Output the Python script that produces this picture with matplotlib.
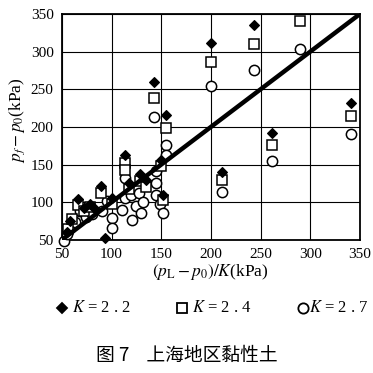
import matplotlib
matplotlib.use("Agg")
import matplotlib.pyplot as plt
from matplotlib.lines import Line2D

plt.rcParams['mathtext.fontset'] = 'stix'
plt.rcParams['font.family'] = ['Liberation Serif', 'DejaVu Serif']

# K = 2.2 (filled diamonds)
k22_x = [55, 58, 66, 72, 78, 82, 89, 93, 100, 114, 118, 129, 135, 143, 150, 152, 155, 200, 211, 243, 261, 341]
k22_y = [60, 75, 104, 92, 98, 92, 122, 52, 105, 163, 125, 137, 130, 260, 156, 110, 216, 311, 140, 336, 192, 232]
# K = 2.4 (open squares)
k24_x = [56, 60, 66, 72, 78, 89, 100, 114, 114, 118, 129, 135, 143, 150, 152, 155, 200, 211, 243, 261, 290, 341]
k24_y = [65, 78, 96, 88, 94, 112, 98, 152, 143, 118, 128, 120, 238, 148, 103, 199, 286, 130, 310, 176, 341, 214]
# K = 2.7 (open circles)
k27_x = [52, 55, 58, 63, 68, 74, 80, 90, 95, 100, 100, 110, 113, 114, 120, 121, 125, 128, 130, 132,
         143, 145, 145, 145, 149, 152, 155, 155, 200, 211, 243, 261, 290, 341]
k27_y = [48, 58, 66, 74, 88, 80, 84, 88, 101, 79, 66, 90, 106, 132, 110, 77, 95, 112, 86, 100,
         213, 141, 125, 110, 97, 86, 176, 163, 254, 114, 276, 155, 303, 190]

line_x = [50, 350]
line_y = [50, 350]
ticks = [50, 100, 150, 200, 250, 300, 350]
legend_labels = ["$K$ = 2 . 2", "$K$ = 2 . 4", "$K$ = 2 . 7"]

fig = plt.figure(figsize=(3.73, 3.73), dpi=100)
ax = fig.add_axes([0.166, 0.357, 0.799, 0.6055])
ax.set_xlim(50, 350)
ax.set_ylim(50, 350)
ax.set_xticks(ticks)
ax.set_yticks(ticks)
ax.tick_params(length=0, labelsize=11, pad=6)
ax.grid(True, color='black', linewidth=0.8)
ax.set_axisbelow(True)
for s in ax.spines.values():
    s.set_linewidth(1.3)

ax.plot(k27_x, k27_y, 'o', ms=7.4, mfc='white', mec='black', mew=1.1, ls='none', zorder=3, clip_on=False)
ax.plot(k24_x, k24_y, 's', ms=7.0, mfc='white', mec='black', mew=1.1, ls='none', zorder=4, clip_on=False)
ax.plot(k22_x, k22_y, 'D', ms=5.2, mfc='black', mec='black', mew=0.8, ls='none', zorder=5, clip_on=False)
ax.plot(line_x, line_y, color='black', lw=3.2, zorder=6, solid_capstyle='butt')

fig.text(0.563, 0.271, r"$(p_{\mathrm{L}}-p_0)/K$(kPa)", ha='center', va='center', fontsize=12.5)
fig.text(0.046, 0.678, r"$p_f-p_0$(kPa)", ha='center', va='center', rotation=90, fontsize=12.5)

# legend
mk = [('D', 'black', 5.2), ('s', 'white', 7.0), ('o', 'white', 7.4)]
mx = [62, 182, 303]
tx = [72, 192, 309]
for (m, fc, ms), x0, t0, lab in zip(mk, mx, tx, legend_labels):
    fig.add_artist(Line2D([x0 / 373], [1 - 308 / 373], marker=m, ms=ms, mfc=fc, mec='black',
                          mew=1.3, ls='none', transform=fig.transFigure))
    fig.text(t0 / 373, 1 - 308 / 373, lab, ha='left', va='center', fontsize=12)

fig.text(0.5, 0.048, "图 7    上海地区黏性土", ha='center', va='center', fontsize=13.5,
         family=['Noto Sans CJK SC', 'DejaVu Sans'])

fig.savefig("out.png", dpi=100)
